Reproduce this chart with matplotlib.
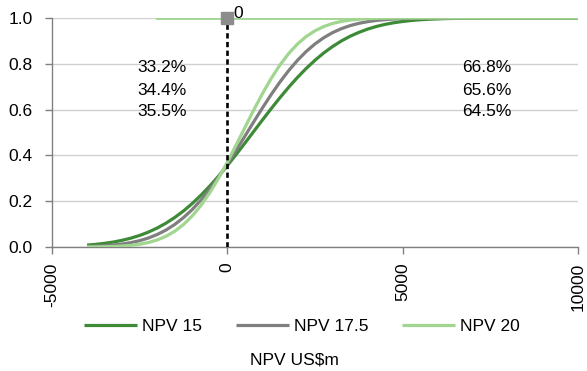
import matplotlib
matplotlib.use("Agg")
import matplotlib.pyplot as plt

plt.rcParams['font.family'] = ['Liberation Sans', 'DejaVu Sans']
plt.rcParams['font.size'] = 12.5

# NPV grid (US$m) and cumulative probability for each scenario
npv = [-4000, -3750, -3500, -3250, -3000, -2750, -2500, -2250, -2000, -1750,
       -1500, -1250, -1000, -750, -500, -250, 0, 250, 500, 750,
       1000, 1250, 1500, 1750, 2000, 2250, 2500, 2750, 3000, 3250,
       3500, 3750, 4000, 4250, 4500, 4750, 5000, 5250, 5500, 5750,
       6000, 6250, 6500, 6750, 7000, 7500, 8000, 10000]

cdf_npv15 = [0.0082, 0.0115, 0.0160, 0.0217, 0.0292, 0.0387, 0.0505, 0.0651, 0.0829, 0.1040,
             0.1289, 0.1574, 0.1900, 0.2264, 0.2663, 0.3095, 0.3555, 0.4037, 0.4535, 0.5041,
             0.5545, 0.6041, 0.6520, 0.6977, 0.7405, 0.7798, 0.8155, 0.8475, 0.8753, 0.8996,
             0.9202, 0.9372, 0.9515, 0.9630, 0.9722, 0.9794, 0.9848, 0.9891, 0.9923, 0.9946,
             0.9962, 0.9975, 0.9983, 0.9989, 0.9993, 0.9997, 0.9999, 1.0]

cdf_npv175 = [0.0022, 0.0035, 0.0055, 0.0086, 0.0130, 0.0192, 0.0277, 0.0393, 0.0545, 0.0740,
              0.0984, 0.1284, 0.1637, 0.2055, 0.2528, 0.3053, 0.3620, 0.4219, 0.4838, 0.5460,
              0.6071, 0.6657, 0.7205, 0.7705, 0.8151, 0.8539, 0.8868, 0.9140, 0.9360, 0.9533,
              0.9667, 0.9767, 0.9840, 0.9894, 0.9930, 0.9955, 0.9972, 0.9983, 0.9990, 0.9994,
              0.9997, 0.9998, 0.9999, 0.9999, 1.0, 1.0, 1.0, 1.0]

cdf_npv20 = [0.0003, 0.0007, 0.0013, 0.0023, 0.0042, 0.0072, 0.0121, 0.0196, 0.0308, 0.0468,
             0.0688, 0.0982, 0.1357, 0.1820, 0.2372, 0.3005, 0.3704, 0.4451, 0.5215, 0.5972,
             0.6694, 0.7359, 0.7948, 0.8450, 0.8864, 0.9192, 0.9443, 0.9628, 0.9760, 0.9850,
             0.9909, 0.9947, 0.9970, 0.9983, 0.9991, 0.9996, 0.9998, 0.9999, 1.0, 1.0,
             1.0, 1.0, 1.0, 1.0, 1.0, 1.0, 1.0, 1.0]

series_names = ["NPV 15", "NPV 17.5", "NPV 20"]
series_colors = ["#3d8b37", "#7f7f7f", "#a0d68f"]

# Upper reference line and break-even marker
upper_x = [-2000, 10000]
upper_y = [1.0, 1.0]
breakeven_x = 0
breakeven_label = "0"

below_zero = ["33.2%", "34.4%", "35.5%"]
above_zero = ["66.8%", "65.6%", "64.5%"]
label_levels = [0.785, 0.685, 0.59]

x_ticks = [-5000, 0, 5000, 10000]
y_ticks = [0.0, 0.2, 0.4, 0.6, 0.8, 1.0]

W, H = 587, 371
fig = plt.figure(figsize=(W / 100, H / 100), dpi=100)
ax = fig.add_axes([52 / W, 1 - 247 / H, 526 / W, 229 / H])

ax.plot(upper_x, upper_y, color=series_colors[2], lw=2.0, zorder=2)

handles = []
for vals, name, col in zip([cdf_npv15, cdf_npv175, cdf_npv20], series_names, series_colors):
    h, = ax.plot(npv, vals, color=col, lw=2.3, label=name, zorder=3,
                 solid_capstyle='butt')
    handles.append(h)

ax.plot([breakeven_x, breakeven_x], [0, 1], color='black', lw=1.9,
        linestyle=(0, (2, 1.3)), zorder=4)
ax.plot([breakeven_x], [1.0], marker='s', markersize=8.5, color='#8c8c8c', zorder=5,
        clip_on=False)
ax.annotate(breakeven_label, (breakeven_x, 1.0), xytext=(4.5, -2), textcoords='offset points',
            ha='left', va='bottom', annotation_clip=False)

for txt, lvl in zip(below_zero, label_levels):
    ax.text(-1863, lvl, txt, ha='center', va='center')
for txt, lvl in zip(above_zero, label_levels):
    ax.text(7405, lvl, txt, ha='center', va='center')

ax.set_xlim(-5000, 10000)
ax.set_ylim(0, 1.0)
ax.set_xticks(x_ticks)
ax.set_xticklabels([str(t) for t in x_ticks], rotation=90)
ax.set_yticks(y_ticks)
ax.set_yticklabels([f"{t:.1f}" for t in y_ticks])
ax.yaxis.grid(True, color='#d0d0d0', lw=1.0)
ax.set_axisbelow(True)
for s in ['top', 'right']:
    ax.spines[s].set_visible(False)
for s in ['left', 'bottom']:
    ax.spines[s].set_color('#808080')
    ax.spines[s].set_linewidth(1.0)
ax.tick_params(axis='both', colors='#808080', labelcolor='black', length=5, width=1.0,
               labelsize=12.5)
ax.tick_params(axis='x', pad=6)
ax.tick_params(axis='y', pad=9)

fig.legend(handles=handles, labels=series_names, loc='center', ncol=3,
           bbox_to_anchor=(302 / W, 1 - 326 / H), frameon=False,
           handlelength=3.05, handletextpad=0.3, columnspacing=1.95, fontsize=12.5)
fig.text(294 / W, 1 - 360 / H, "NPV US$m", ha='center', va='center', fontsize=12.5)

fig.savefig("out.png", dpi=100)
